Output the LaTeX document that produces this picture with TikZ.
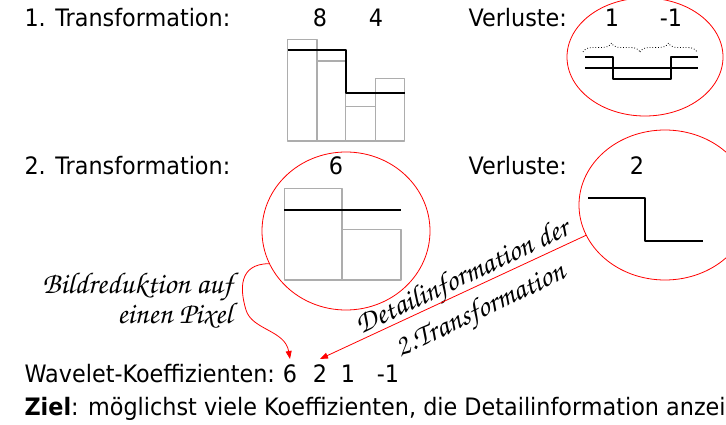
\documentclass[tikz,border=0pt]{standalone}
\usepackage[T1]{fontenc}
\usepackage{fontspec}
\setmainfont{DejaVu Sans}[FakeStretch=0.93]
\usetikzlibrary{arrows.meta,decorations.pathreplacing,shapes.geometric}
% script face for the hand-written remarks
\newcommand\handfont{\fontencoding{T1}\fontfamily{pzc}\fontseries{mb}\fontshape{it}\selectfont}

\begin{document}
\begin{tikzpicture}[x=1pt,y=-1pt,line join=round,
    every node/.style={font=\fontsize{24}{28}\selectfont},
    bar/.style={draw=black!32,line width=1.3pt},
    level/.style={draw=black,line width=2.2pt},
    ring/.style={ellipse,draw=red,line width=0.8pt,inner sep=0pt},
    hand/.style={font=\handfont\fontsize{30}{34}\selectfont},
    coef/.style={anchor=base,inner sep=5pt},
    redarrow/.style={draw=red,line width=0.8pt,-{Triangle[length=8pt,width=6pt]}}]
  \fill[white] (0,0) rectangle (726,425);
  \clip (0,0) rectangle (726,425);

  % first step: averages and losses
  \node[anchor=base west] (tfone) at (21,27) {1. Transformation:};
  \node[anchor=base] (avgeight) at (320,27) {8};
  \node[anchor=base] (avgfour) at (376,27) {4};
  \node[anchor=base west] (lossone) at (465,27) {Verluste:};
  \node[anchor=base] (detone) at (612,27) {1};
  \node[anchor=base] (detmone) at (671,27) {-1};

  \draw[bar] (287.7,141) rectangle (317,39.3);
  \draw[bar] (317,141) rectangle (345.3,61);
  \draw[bar] (345.3,141) rectangle (375.3,106.7);
  \draw[bar] (375.3,141) rectangle (404.7,78.7);
  \draw[level] (287.7,50.3) -- (346,50.3) -- (346,92.7) -- (404.7,92.7);

  \node[ring,minimum width=156,minimum height=118] (lossring) at (645,57) {};
  \draw[dotted,line width=0.8pt,decorate,decoration={brace,amplitude=9pt}] (583,52) -- (640,52);
  \draw[dotted,line width=0.8pt,decorate,decoration={brace,amplitude=9pt}] (640,52) -- (697,52);
  \draw[level,line width=1.8pt] (585,68.3) -- (697.7,68.3);
  \draw[level] (585,56.7) -- (612.7,56.7) -- (612.7,79) -- (670.7,79) -- (670.7,56.7) -- (697.7,56.7);

  % second step
  \node[anchor=base west] (tftwo) at (21,175) {2. Transformation:};
  \node[anchor=base] (avgsix) at (336,175) {6};
  \node[anchor=base west] (losstwo) at (465,175) {Verluste:};
  \node[anchor=base] (dettwo) at (637,175) {2};

  \node[ring,minimum width=168,minimum height=158] (reducring) at (346,231) {};
  \draw[bar] (284.3,188.3) rectangle (342,280);
  \draw[bar] (342,229.3) rectangle (401,280);
  \draw[level] (284.3,210) -- (401,210);

  \node[ring,minimum width=172,minimum height=150] (detailring) at (665,205) {};
  \draw[level] (588.3,198.3) -- (645,198.3) -- (645,240.7) -- (702.7,240.7);

  % result
  \node[anchor=base west] (wavelet) at (21,382) {Wavelet-Koeffizienten:};
  \node[coef] (cfsix) at (290,382) {6};
  \node[coef] (cftwo) at (320,382) {2};
  \node[coef] (cfone) at (348,382) {1};
  \node[coef] (cfmone) at (388,382) {-1};
  \node[anchor=base west] (goal) at (21,415) {\textbf{Ziel}: möglichst viele Koeffizienten, die Detailinformation anzeigen};

  \node[hand,anchor=base east] (reducone) at (236,293) {Bildreduktion auf};
  \node[hand,anchor=base east] (reductwo) at (236,323) {einen Pixel};
  \node[hand,rotate=25.5] (detaillabel) at (463,279) {Detailinformation der};
  \node[hand,rotate=25.5] (translabel) at (481,312) {2.Transformation};

  \draw[redarrow] (reducring.203) .. controls (238,264) and (240,290) .. (246,310)
    .. controls (252,330) and (285,330) .. (cfsix.north);
  \draw[redarrow] (detailring.201) -- (cftwo.north);
\end{tikzpicture}
\end{document}
